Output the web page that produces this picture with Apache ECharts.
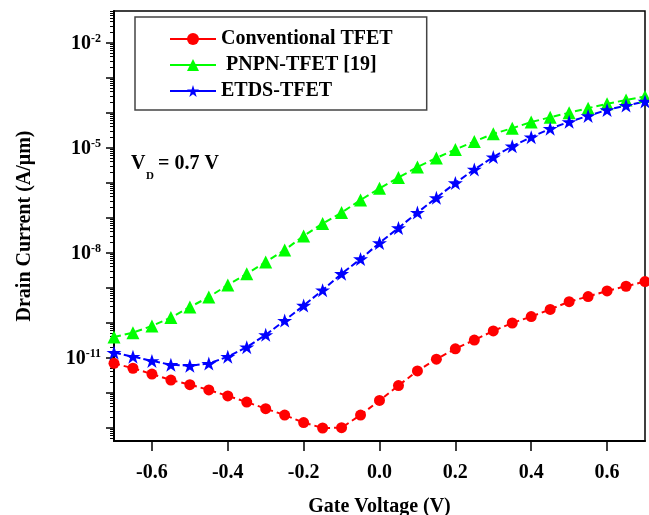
<!DOCTYPE html>
<html>
<head>
<meta charset="utf-8">
<script src="https://cdn.jsdelivr.net/npm/echarts@6/dist/echarts.min.js"></script>
<style>html,body{margin:0;padding:0;background:#fff}#c{width:649px;height:515px}</style>
</head>
<body>
<div id="c"></div>
<script>
// ---- data ----
const gateVoltage = [-0.7,-0.65,-0.6,-0.55,-0.5,-0.45,-0.4,-0.35,-0.3,-0.25,-0.2,-0.15,-0.1,-0.05,0,0.05,0.1,0.15,0.2,0.25,0.3,0.35,0.4,0.45,0.5,0.55,0.6,0.65,0.7];
const conventionalTFET = [6.9e-12,5.0e-12,3.4e-12,2.3e-12,1.7e-12,1.2e-12,8.1e-13,5.4e-13,3.5e-13,2.3e-13,1.4e-13,9.8e-14,1.0e-13,2.3e-13,6.0e-13,1.6e-12,4.2e-12,9.1e-12,1.8e-11,3.2e-11,5.8e-11,9.8e-11,1.5e-10,2.4e-10,4.0e-10,5.6e-10,8.1e-10,1.1e-9,1.5e-9];
const pnpnTFET = [3.9e-11,5.2e-11,8.1e-11,1.4e-10,2.8e-10,5.4e-10,1.2e-9,2.5e-9,5.4e-9,1.2e-8,3.0e-8,6.8e-8,1.4e-7,3.2e-7,6.9e-7,1.4e-6,2.8e-6,5.1e-6,8.9e-6,1.5e-5,2.5e-5,3.6e-5,5.4e-5,7.4e-5,1.0e-4,1.35e-4,1.8e-4,2.3e-4,2.9e-4];
const etdsTFET = [1.4e-11,1.07e-11,8.1e-12,6.3e-12,5.9e-12,6.8e-12,1.07e-11,2.0e-11,4.5e-11,1.15e-10,3.1e-10,8.5e-10,2.5e-9,6.6e-9,1.9e-8,5.1e-8,1.4e-7,3.7e-7,9.8e-7,2.4e-6,5.4e-6,1.1e-5,2.0e-5,3.5e-5,5.5e-5,8.1e-5,1.2e-4,1.6e-4,2.1e-4];
const seriesNames = ['Conventional TFET', ' PNPN-TFET [19]', 'ETDS-TFET'];
const xTickValues = [-0.6,-0.4,-0.2,0.0,0.2,0.4,0.6];
const xTickLabels = ['-0.6','-0.4','-0.2','0.0','0.2','0.4','0.6'];
const yMajorTicks = [1e-13,1e-12,1e-11,1e-10,1e-9,1e-8,1e-7,1e-6,1e-5,1e-4,1e-3,1e-2];
const yLabelValues = [1e-11,1e-8,1e-5,1e-2];
const yLabelExponents = ['-11','-8','-5','-2'];
const yMin = 4.17e-14, yMax = 0.0805;

// minor log ticks (2..9 in each decade)
const yMinorTicks = [];
for (const d of [1e-14].concat(yMajorTicks)) {
  for (let k = 2; k <= 9; k++) { const v = +(k * d).toPrecision(3); if (v > yMin && v < yMax) yMinorTicks.push(v); }
}

const FONT = '"Liberation Serif", "Times New Roman", serif';
const STAR = 'path://M0,-10L2.245,-3.09L9.51,-3.09L3.633,1.18L5.878,8.09L0,3.82L-5.878,8.09L-3.633,1.18L-9.51,-3.09L-2.245,-3.09Z';
const pairs = arr => gateVoltage.map((x, i) => [x, arr[i]]);

const chart = echarts.init(document.getElementById('c'), null, {renderer: 'canvas'});
chart.setOption({
  animation: false,
  backgroundColor: '#fff',
  textStyle: {fontFamily: FONT},
  grid: {left: 114, right: 4, top: 11, bottom: 74, show: true, borderColor: '#000', borderWidth: 1.5,
    containLabel: false, outerBoundsMode: 'none'},
  legend: {
    left: 135, top: 17, orient: 'vertical',
    padding: [12, 34, 9, 34],
    borderColor: '#444', borderWidth: 1.5,
    itemWidth: 46, itemHeight: 15, itemGap: 6,
    lineStyle: {type: 'solid', width: 2},
    textStyle: {fontFamily: FONT, fontWeight: 'bold', fontSize: 20, color: '#000', lineHeight: 20},
    data: seriesNames
  },
  xAxis: {
    type: 'value', min: -0.7, max: 0.7,
    name: 'Gate Voltage (V)', nameLocation: 'middle', nameGap: 56,
    nameTextStyle: {fontFamily: FONT, fontWeight: 'bold', fontSize: 20, color: '#000'},
    axisLine: {show: true, onZero: false, lineStyle: {color: '#000', width: 2}},
    axisTick: {show: true, customValues: xTickValues, length: 10, lineStyle: {color: '#000', width: 1.5}},
    axisLabel: {customValues: xTickValues, margin: 22, fontFamily: FONT, fontWeight: 'bold', fontSize: 20, color: '#000',
      formatter: v => { const i = xTickValues.findIndex(t => Math.abs(t - v) < 1e-9); return i >= 0 ? xTickLabels[i] : ''; }},
    splitLine: {show: false}
  },
  yAxis: [{
    type: 'log', logBase: 10, min: yMin, max: yMax,
    name: 'Drain Current (A/\u03bcm)', nameLocation: 'middle', nameGap: 79, nameRotate: 90,
    nameTextStyle: {fontFamily: FONT, fontWeight: 'bold', fontSize: 20, color: '#000'},
    axisLine: {show: true, onZero: false, lineStyle: {color: '#000', width: 2}},
    axisTick: {show: true, customValues: yMajorTicks, length: 8, lineStyle: {color: '#000', width: 1.5}},
    axisLabel: {customValues: yLabelValues, margin: 13, color: '#000',
      formatter: v => { let best = 0, bd = 1e9; yLabelValues.forEach((t, i) => { const d = Math.abs(Math.log10(t) - Math.log10(v)); if (d < bd) { bd = d; best = i; } }); return '{b|10}{s|' + yLabelExponents[best] + '}'; },
      rich: {
        b: {fontFamily: FONT, fontWeight: 'bold', fontSize: 20, color: '#000', padding: [3, 0, 0, 0]},
        s: {fontFamily: FONT, fontWeight: 'bold', fontSize: 12, color: '#000', padding: [0, 0, 8, 0]}
      }},
    splitLine: {show: false}
  }, {
    type: 'log', logBase: 10, min: yMin, max: yMax, position: 'left',
    axisLine: {show: false, onZero: false},
    axisTick: {show: true, customValues: yMinorTicks, length: 4, lineStyle: {color: '#000', width: 1}},
    axisLabel: {show: false},
    splitLine: {show: false}
  }],
  series: [{
    name: seriesNames[0], type: 'line', data: pairs(conventionalTFET),
    symbol: 'circle', symbolSize: 11,
    itemStyle: {color: '#ff0000'},
    lineStyle: {color: '#ff0000', width: 2, type: [6, 4]}
  }, {
    name: seriesNames[1], type: 'line', data: pairs(pnpnTFET),
    symbol: 'triangle', symbolSize: 13,
    itemStyle: {color: '#00ff00'},
    lineStyle: {color: '#00ff00', width: 2, type: [7, 4]}
  }, {
    name: seriesNames[2], type: 'line', data: pairs(etdsTFET),
    symbol: STAR, symbolSize: [15, 14],
    itemStyle: {color: '#0000ff'},
    lineStyle: {color: '#0000ff', width: 2, type: [7, 3]}
  }],
  graphic: [{
    type: 'group', left: 131, top: 154,
    children: [
      {type: 'text', x: 0, y: 0, style: {text: 'V', font: 'bold 20px ' + FONT, fill: '#000'}},
      {type: 'text', x: 15, y: 17, style: {text: 'D', font: 'bold 11px ' + FONT, fill: '#000'}},
      {type: 'text', x: 27, y: 0, style: {text: '= 0.7 V', font: 'bold 20px ' + FONT, fill: '#000'}}
    ]
  }]
});
</script>
</body>
</html>
